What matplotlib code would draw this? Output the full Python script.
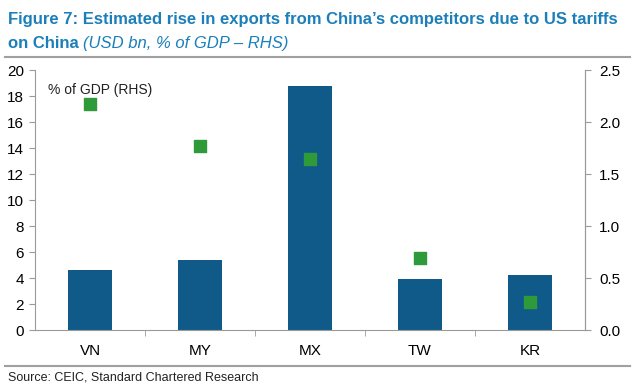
import matplotlib
matplotlib.use('Agg')
import matplotlib.pyplot as plt

plt.rcParams['font.family'] = ['Liberation Sans', 'DejaVu Sans']

# Données
countries = ['VN', 'MY', 'MX', 'TW', 'KR']
exports_usd_bn = [4.6, 5.4, 18.8, 3.9, 4.2]
pct_gdp = [2.17, 1.77, 1.64, 0.69, 0.27]
left_ticks = list(range(0, 21, 2))
right_ticks = [0.0, 0.5, 1.0, 1.5, 2.0, 2.5]

bar_color = '#0f5a88'
dot_color = '#2e9a3a'
title_color = '#1b7fba'
axis_color = '#9a9a9a'

fig = plt.figure(figsize=(6.35, 3.84), dpi=100)
ax = fig.add_axes([35 / 635, 1 - 330 / 384, 550 / 635, 260 / 384])
ax2 = ax.twinx()

x = list(range(len(countries)))
ax.bar(x, exports_usd_bn, width=0.4, color=bar_color, zorder=2)
ax2.scatter(x, pct_gdp, marker='s', s=70, color=dot_color, zorder=3)

ax.set_xlim(-0.5, len(countries) - 0.5)
ax.set_ylim(0, 20)
ax2.set_ylim(0, 2.5)
ax.set_yticks(left_ticks)
ax2.set_yticks(right_ticks)
ax2.set_yticklabels(['{:.1f}'.format(v) for v in right_ticks])

ax.set_xticks(x)
ax.set_xticklabels(countries)
ax.set_xticks([i + 0.5 for i in x[:-1]], minor=True)
ax.tick_params(axis='x', which='major', length=0, pad=10, labelsize=11)
ax.tick_params(axis='x', which='minor', length=4, direction='out', color=axis_color)
ax.tick_params(axis='y', length=4, direction='out', color=axis_color, labelsize=11, pad=4)
ax2.tick_params(axis='y', length=4, direction='out', color=axis_color, labelsize=11, pad=6)

for a in (ax, ax2):
    a.spines['top'].set_visible(False)
    for s in ('left', 'right', 'bottom'):
        a.spines[s].set_color(axis_color)
ax2.spines['left'].set_visible(False)
ax2.spines['bottom'].set_visible(False)

ax.text(0.023, 0.95, '% of GDP (RHS)', transform=ax.transAxes, fontsize=10,
        color='#222222', va='top')

# Titre : on ajuste la taille pour tenir sur la largeur
t0 = fig.text(0.012, 0.97, 'Figure 7: Estimated rise in exports from China\u2019s competitors due to US tariffs',
              fontsize=14, fontweight='bold', color=title_color, va='top')
fig.canvas.draw()
w = t0.get_window_extent().width
size = 14 * 612 / w
t0.set_fontsize(size)
t1 = fig.text(0.012, 0.905, 'on China ', fontsize=size, fontweight='bold', color=title_color, va='top')
fig.canvas.draw()
bb = t1.get_window_extent().transformed(fig.transFigure.inverted())
fig.text(bb.x1, 0.905, '(USD bn, % of GDP \u2013 RHS)', fontsize=size, style='italic',
         color=title_color, va='top')

# Lignes de séparation
fig.add_artist(plt.Line2D([0.008, 0.992], [1 - 57 / 384] * 2, color='#a0a0a0', lw=1.5))
fig.add_artist(plt.Line2D([0.008, 0.992], [1 - 366 / 384] * 2, color='#a0a0a0', lw=1.5))

fig.text(0.012, 0.01, 'Source: CEIC, Standard Chartered Research', fontsize=9, color='#222222')

fig.savefig('out.png', dpi=100)
